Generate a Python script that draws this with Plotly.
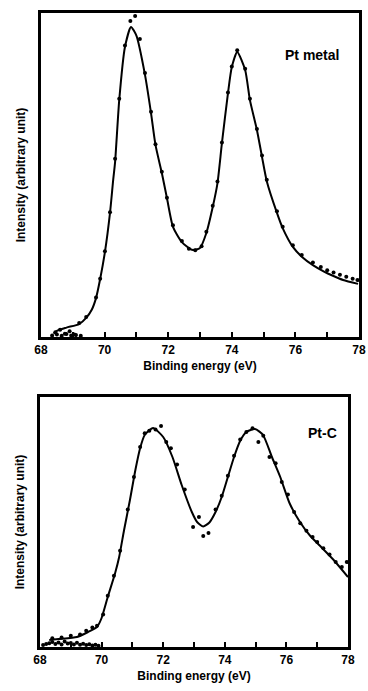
import plotly.graph_objects as go

# ---------------- Pt metal (top panel) ----------------
pt_fit_x = [68.4, 68.5, 68.8, 69.2, 69.42, 69.6, 69.73, 69.86, 70.01, 70.17, 70.27, 70.33,
            70.46, 70.64, 70.83, 71.0, 71.27, 71.46, 71.6, 71.8, 71.96, 72.15, 72.43, 72.75,
            73.0, 73.2, 73.4, 73.55, 73.69, 73.88, 74.0, 74.17, 74.42, 74.57, 74.79, 74.95,
            75.1, 75.42, 75.6, 75.92, 76.2, 76.55, 76.9, 77.18, 77.5, 77.97]
pt_fit_y = [1.0, 1.9, 2.9, 4.0, 5.9, 8.5, 12.0, 17.9, 26.2, 38.3, 48.5, 54.0,
            73.1, 89.5, 95.7, 93.0, 80.9, 69.1, 59.3, 50.6, 42.9, 34.0, 29.3, 26.9,
            27.5, 32.1, 40.1, 47.5, 59.9, 75.3, 83.3, 88.0, 82.4, 73.1, 63.9, 55.6,
            48.1, 38.3, 33.6, 27.8, 24.8, 22.2, 20.2, 18.9, 17.6, 16.4]

pt_dot_x = [68.45, 68.6, 68.75, 68.9, 69.05, 69.2, 69.42, 69.73, 69.86, 70.01, 70.17, 70.33,
            70.46, 70.64, 70.81, 70.96, 71.11, 71.27, 71.46, 71.6, 71.8, 71.96, 72.15, 72.43,
            72.65, 72.85, 73.05, 73.2, 73.4, 73.55, 73.69, 73.88, 74.0, 74.17, 74.42, 74.57,
            74.79, 74.95, 75.1, 75.42, 75.6, 75.92, 76.2, 76.55, 76.8, 77.0, 77.2, 77.4,
            77.6, 77.8, 77.95]
pt_dot_y = [1.5, 2.2, 1.0, 1.8, 0.8, 4.3, 6.2, 12.2, 18.0, 26.5, 38.5, 55.0,
            73.5, 90.0, 97.5, 99.1, 92.0, 81.5, 69.5, 59.5, 51.0, 43.0, 34.5, 29.6,
            27.2, 26.8, 28.0, 32.5, 40.5, 48.0, 60.0, 75.5, 83.5, 88.5, 82.8, 73.5,
            64.2, 56.0, 48.5, 38.8, 34.0, 28.3, 25.3, 23.0, 21.6, 20.6, 19.9, 19.2,
            18.6, 18.0, 17.6]

pt_bg_x = [68.35, 68.5, 68.65, 68.8, 68.95, 69.1, 69.25]
pt_bg_y = [0.5, 0.8, 0.4, 0.9, 0.5, 0.6, 0.4]

# ---------------- Pt-C (bottom panel) ----------------
ptc_fit_x = [68.3, 68.6, 69.2, 69.56, 69.85, 70.0, 70.2, 70.44, 70.57, 70.73, 70.92, 71.1,
             71.25, 71.4, 71.67, 72.0, 72.3, 72.6, 72.93, 73.1, 73.3, 73.5, 73.7, 73.9, 74.1,
             74.3, 74.5, 74.7, 74.98, 75.24, 75.53, 75.8, 76.1, 76.44, 76.77, 77.09, 77.52,
             78.0]
ptc_fit_y = [2.8, 3.2, 4.0, 6.0, 8.0, 11.6, 20.0, 29.6, 36.0, 46.8, 58.8, 71.0,
             79.5, 84.8, 87.6, 84.0, 76.0, 64.8, 54.0, 50.0, 48.2, 49.8, 54.0, 60.0, 68.0,
             76.0, 82.5, 86.0, 87.2, 84.8, 76.0, 68.0, 57.6, 50.0, 44.5, 40.5, 35.0,
             28.0]

ptc_dot_x = [68.4, 68.7, 69.0, 69.3, 69.5, 69.7, 69.85, 70.05, 70.2, 70.4, 70.6, 70.85,
             71.05, 71.25, 71.4, 71.55, 71.75, 71.93, 72.1, 72.25, 72.45, 72.7, 72.97, 73.16,
             73.3, 73.47, 73.7, 73.9, 74.1, 74.3, 74.5, 74.7, 74.9, 75.09, 75.25, 75.45,
             75.65, 75.85, 76.05, 76.25, 76.45, 76.65, 76.85, 77.0, 77.2, 77.4, 77.6,
             77.8, 77.96]
ptc_dot_y = [3.5, 3.8, 4.5, 5.0, 6.5, 7.8, 8.5, 13.0, 20.5, 28.5, 38.5, 55.0,
             68.0, 80.0, 85.5, 86.5, 87.0, 88.4, 82.0, 79.5, 73.0, 63.0, 48.0, 52.0,
             44.4, 45.6, 55.0, 60.5, 68.5, 76.5, 83.0, 86.0, 87.5, 82.0, 84.5, 76.0,
             73.5, 66.0, 61.0, 54.0, 49.5, 46.5, 44.0, 42.0, 39.5, 37.0, 34.0,
             32.0, 34.0]

ptc_bg_x = [68.1, 68.2, 68.3, 68.4, 68.5, 68.6, 68.7, 68.8, 68.9, 69.0, 69.1, 69.2,
            69.3, 69.4, 69.5, 69.6, 69.7, 69.8, 69.9]
ptc_bg_y = [0.8, 1.2, 1.5, 2.0, 1.2, 1.8, 1.0, 2.2, 1.4, 1.6, 1.0, 1.7,
            0.9, 1.3, 0.8, 1.1, 0.6, 0.9, 0.5]

xticks_major = [68, 70, 72, 74, 76, 78]

fig = go.Figure()

mk = dict(color="black", size=4)
ln = dict(color="black", width=2, shape="spline", smoothing=0.6)

fig.add_trace(go.Scatter(x=pt_bg_x, y=pt_bg_y, mode="markers", marker=mk,
                         xaxis="x", yaxis="y", showlegend=False))
fig.add_trace(go.Scatter(x=pt_dot_x, y=pt_dot_y, mode="markers", marker=mk,
                         xaxis="x", yaxis="y", showlegend=False))
fig.add_trace(go.Scatter(x=pt_fit_x, y=pt_fit_y, mode="lines", line=ln,
                         xaxis="x", yaxis="y", showlegend=False))

fig.add_trace(go.Scatter(x=ptc_bg_x, y=ptc_bg_y, mode="markers", marker=mk,
                         xaxis="x2", yaxis="y2", showlegend=False))
fig.add_trace(go.Scatter(x=ptc_dot_x, y=ptc_dot_y, mode="markers", marker=mk,
                         xaxis="x2", yaxis="y2", showlegend=False))
fig.add_trace(go.Scatter(x=ptc_fit_x, y=ptc_fit_y, mode="lines", line=ln,
                         xaxis="x2", yaxis="y2", showlegend=False))

W, H = 368, 691
font_b = "Liberation Sans, Arial, sans-serif"

def xaxis(domain, anchor):
    return dict(domain=domain, anchor=anchor, range=[68, 78], tickvals=xticks_major,
                automargin=False,
                ticks="inside", ticklen=5, tickwidth=2, tickcolor="black",
                minor=dict(dtick=1, ticks="inside", ticklen=5, tickwidth=2, tickcolor="black"),
                showline=True, linecolor="black", linewidth=2.5, mirror=True,
                showgrid=False, zeroline=False,
                tickfont=dict(family=font_b, size=12, color="black", weight="bold"),
                title=dict(text="<b>Binding energy (eV)</b>", standoff=6,
                           font=dict(family=font_b, size=12, color="black")))

def yaxis(domain, anchor):
    return dict(domain=domain, anchor=anchor, range=[0, 100], showticklabels=False,
                automargin=False,
                ticks="", showline=True, linecolor="black", linewidth=2.5, mirror=True,
                showgrid=False, zeroline=False,
                title=dict(text="<b>Intensity (arbitrary unit)</b>", standoff=11,
                           font=dict(family=font_b, size=12, color="black")))

fig.update_layout(
    width=W, height=H,
    margin=dict(l=0, r=0, t=0, b=0),
    paper_bgcolor="white", plot_bgcolor="white",
    hovermode=False,
    xaxis=xaxis([41 / W, 359 / W], "y"),
    yaxis=yaxis([1 - 337 / H, 1 - 13 / H], "x"),
    xaxis2=xaxis([40 / W, 348 / W], "y2"),
    yaxis2=yaxis([1 - 647 / H, 1 - 397 / H], "x2"),
    annotations=[
        dict(text="<b>Pt metal</b>", x=312 / W, y=1 - 55 / H, xref="paper", yref="paper",
             xanchor="center", yanchor="middle",
             showarrow=False, font=dict(family=font_b, size=14, color="black")),
        dict(text="<b>Pt-C</b>", x=322 / W, y=1 - 433 / H, xref="paper", yref="paper",
             xanchor="center", yanchor="middle",
             showarrow=False, font=dict(family=font_b, size=14, color="black")),
    ],
)

fig.write_html("out.html", config={"displayModeBar": False},
               post_script="document.body.style.margin='0';document.body.style.overflow='hidden';")
